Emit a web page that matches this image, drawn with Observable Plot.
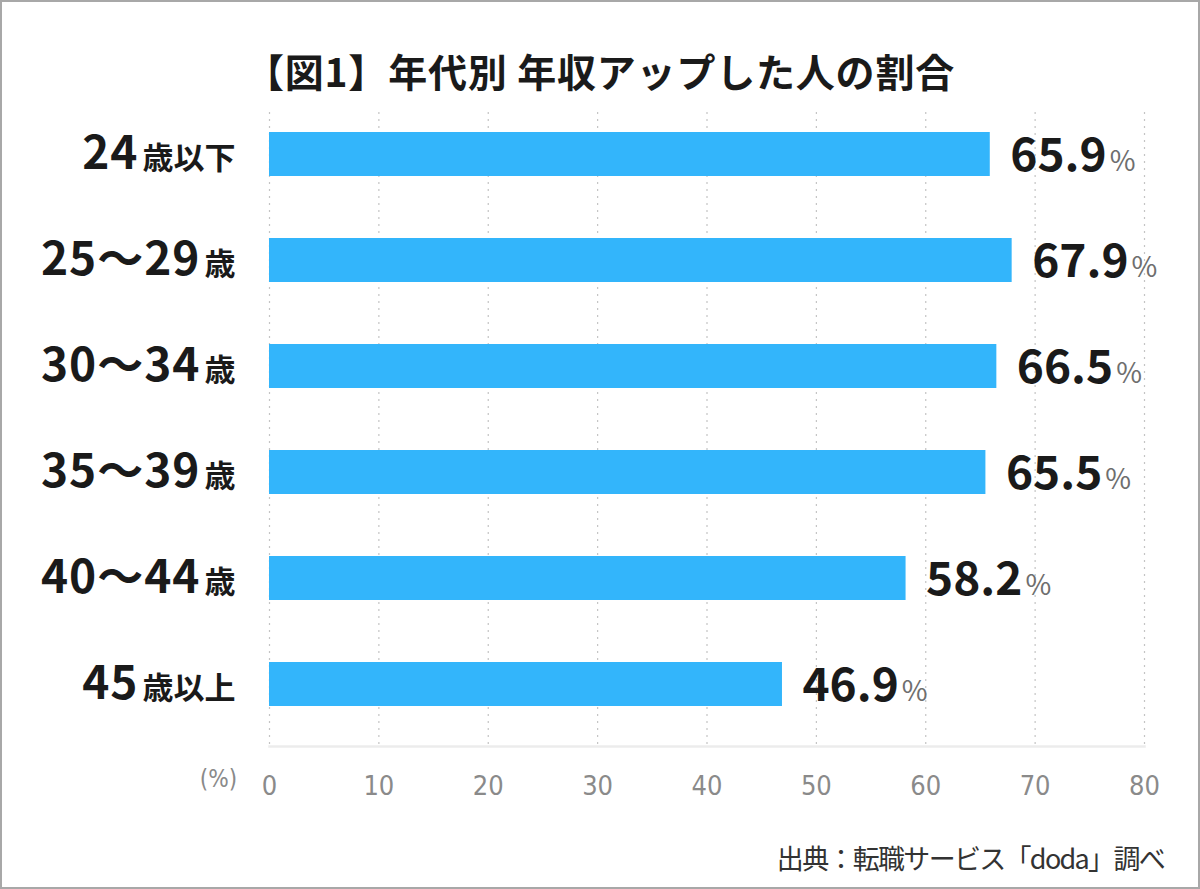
<!DOCTYPE html>
<html>
<head>
<meta charset="utf-8">
<script src="https://cdn.jsdelivr.net/npm/d3@7"></script>
<script src="https://cdn.jsdelivr.net/npm/@observablehq/plot@0.6"></script>
<style>
  html, body { margin: 0; padding: 0; background: #fff; }
  #wrap { position: relative; width: 1200px; height: 889px; background: #fff; overflow: hidden;
          font-family: "Noto Sans CJK JP", "Noto Sans", sans-serif; }
  #border { position: absolute; left: 0; top: 0; width: 1200px; height: 889px; box-sizing: border-box;
            border: 2px solid #a8a8a8; pointer-events: none; }
  #title { position: absolute; left: 0; top: 42px; width: 1200px; text-align: center;
           font-size: 39px; font-weight: 700; color: #1a1a1a; line-height: 56px; letter-spacing: 0.8px; }
  #chart { position: absolute; left: 0; top: 100px; }
  #source { position: absolute; right: 36px; top: 838px; font-size: 27px; color: #333;
            line-height: 40px; letter-spacing: -1.7px; }
</style>
</head>
<body>
<div id="wrap">
  <div id="title">【図1】年代別 年収アップした人の割合</div>
  <div id="chart"></div>
  <div id="source">出典：転職サービス「doda」調べ</div>
  <div id="border"></div>
</div>
<script>
const categories = ["24歳以下", "25～29歳", "30～34歳", "35～39歳", "40～44歳", "45歳以上"];
const values = [65.9, 67.9, 66.5, 65.5, 58.2, 46.9];
const xTicks = [0, 10, 20, 30, 40, 50, 60, 70, 80];
const unitLabel = "(%)";

const data = categories.map((c, i) => ({cat: c, value: values[i]}));

const plot = Plot.plot({
  width: 1200,
  height: 720,
  marginLeft: 269,
  marginRight: 56,
  marginTop: 12,
  marginBottom: 74,
  style: {fontFamily: "'Noto Sans CJK JP', sans-serif", background: "#fff"},
  x: {domain: [0, 80]},
  y: {domain: categories, range: [1, 637], paddingInner: 0.585, paddingOuter: 0.2925},
  marks: [
    Plot.gridX({ticks: xTicks, stroke: "#c4c4c4", strokeOpacity: 1, strokeWidth: 1.2, strokeDasharray: "2,5"}),
    Plot.frame({anchor: "bottom", stroke: "#ececec", strokeWidth: 2.5}),
    Plot.barX(data, {x: "value", y: "cat", fill: "#33b5fb"}),
    Plot.text(data, {x: "value", y: "cat", text: d => d.value.toFixed(1) + "%", textAnchor: "start", dx: 20, dy: 2,
                     fontSize: 46, fontWeight: 600, fill: "#1a1a1a"}),
    Plot.axisX({ticks: xTicks, tickSize: 0, tickPadding: 29, fontSize: 27, color: "#8a8a8a", label: null,
                fontFamily: "'Liberation Sans Narrow', 'DejaVu Sans Condensed', sans-serif"}),
    Plot.axisY({tickSize: 0, tickPadding: 34, label: null, fontSize: 46, fontWeight: 600, color: "#1a1a1a"}),
    Plot.text([unitLabel], {frameAnchor: "bottom-left", textAnchor: "middle", dx: -51, dy: 40, fontSize: 24, fill: "#8a8a8a",
                            fontFamily: "'Liberation Sans Narrow', 'DejaVu Sans Condensed', sans-serif"})
  ]
});
document.getElementById("chart").appendChild(plot);

const ns = "http://www.w3.org/2000/svg";
// Category labels: big digits, smaller kanji suffix
plot.querySelectorAll('g[aria-label="y-axis tick label"] text').forEach(t => {
  const s = t.textContent;
  const m = s.match(/^([\d～]+)(.*)$/);
  if (!m) return;
  t.textContent = "";
  const a = document.createElementNS(ns, "tspan");
  a.textContent = m[1];
  a.setAttribute("font-size", 46);
  a.setAttribute("letter-spacing", "1");
  const b = document.createElementNS(ns, "tspan");
  b.textContent = m[2];
  b.setAttribute("font-size", 31);
  b.setAttribute("dx", "4");
  t.appendChild(a); t.appendChild(b);
});
// Value labels: smaller grey percent sign
plot.querySelectorAll('g[aria-label="text"] text').forEach(t => {
  const s = t.textContent;
  if (!s.endsWith("%") || s === unitLabel) return;
  t.textContent = "";
  const a = document.createElementNS(ns, "tspan");
  a.textContent = s.slice(0, -1);
  const b = document.createElementNS(ns, "tspan");
  b.textContent = "%";
  b.setAttribute("font-size", 28);
  b.setAttribute("font-weight", 400);
  b.setAttribute("fill", "#6e6e6e");
  b.setAttribute("dx", "3");
  t.appendChild(a); t.appendChild(b);
});
</script>
</body>
</html>
